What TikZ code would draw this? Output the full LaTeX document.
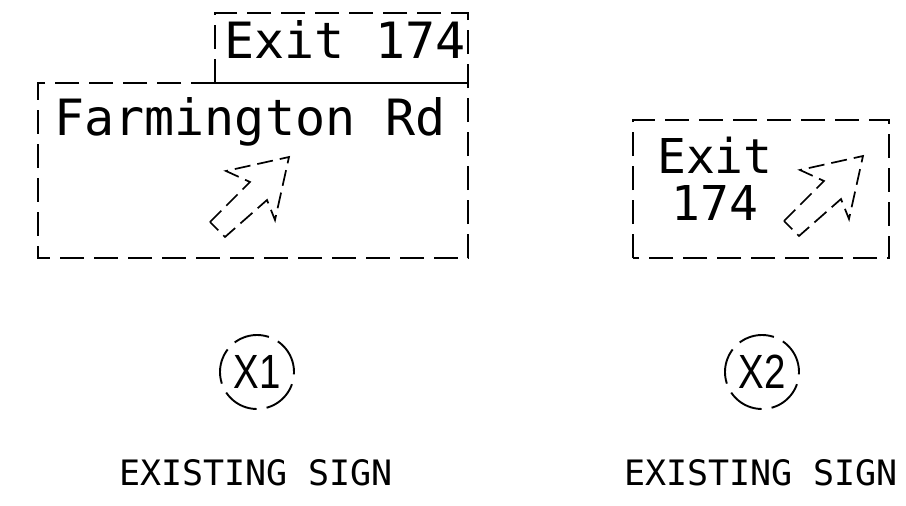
\documentclass[tikz,border=0pt]{standalone}
\usepackage{fontspec}
\setmonofont{DejaVu Sans Mono}
\newfontfamily\xfont[FakeStretch=0.8]{Liberation Sans}
\begin{document}
\begin{tikzpicture}[x=1pt,y=-1pt,line width=1.9pt,
  signdash/.style={dash pattern=on 24pt off 10pt},
  arrowdash/.style={line width=1.7pt,dash pattern=on 16pt off 7pt},
  bigtxt/.style={inner sep=0pt,anchor=base,font=\fontsize{50}{52}\selectfont\ttfamily},
  midtxt/.style={inner sep=0pt,anchor=base,font=\fontsize{48}{50}\selectfont\ttfamily},
  captxt/.style={inner sep=0pt,anchor=base,font=\fontsize{35}{37}\selectfont\ttfamily},
  tag/.style={circle,draw,dash pattern=on 36pt off 10pt,minimum size=74pt,inner sep=0pt,font=\fontsize{48}{50}\selectfont\xfont},
  signarrow/.pic={\draw[arrowdash] (0,0) -- (40,-40) -- (16,-51) -- (79,-65) -- (65,-2) -- (57,-22) -- (15,15) -- cycle;}]
\useasboundingbox (0,0) rectangle (906,506);
% sign X1
\draw[signdash] (215,83) -- (38,83) -- (38,258) -- (468,258) -- (468,13) -- (215,13) -- (215,83);
\draw (215,83) -- (468,83);
\node[bigtxt] (exitA) at (345,58) {Exit 174};
\node[bigtxt] (farm) at (250,135) {Farmington Rd};
\pic at (210,222) {signarrow};
% sign X2
\draw[signdash] (633,258) -- (633,120) -- (889,120) -- (889,258) -- cycle;
\node[midtxt] (exitB) at (715,173) {Exit};
\node[midtxt] (numB) at (715,220) {174};
\pic at (784,221) {signarrow};
% tags
\node[tag] (x1) at (257,372) {X1};
\node[tag] (x2) at (762,372) {X2};
\node[captxt] (cap1) at (256,485) {EXISTING SIGN};
\node[captxt] (cap2) at (761,485) {EXISTING SIGN};
\end{tikzpicture}
\end{document}
